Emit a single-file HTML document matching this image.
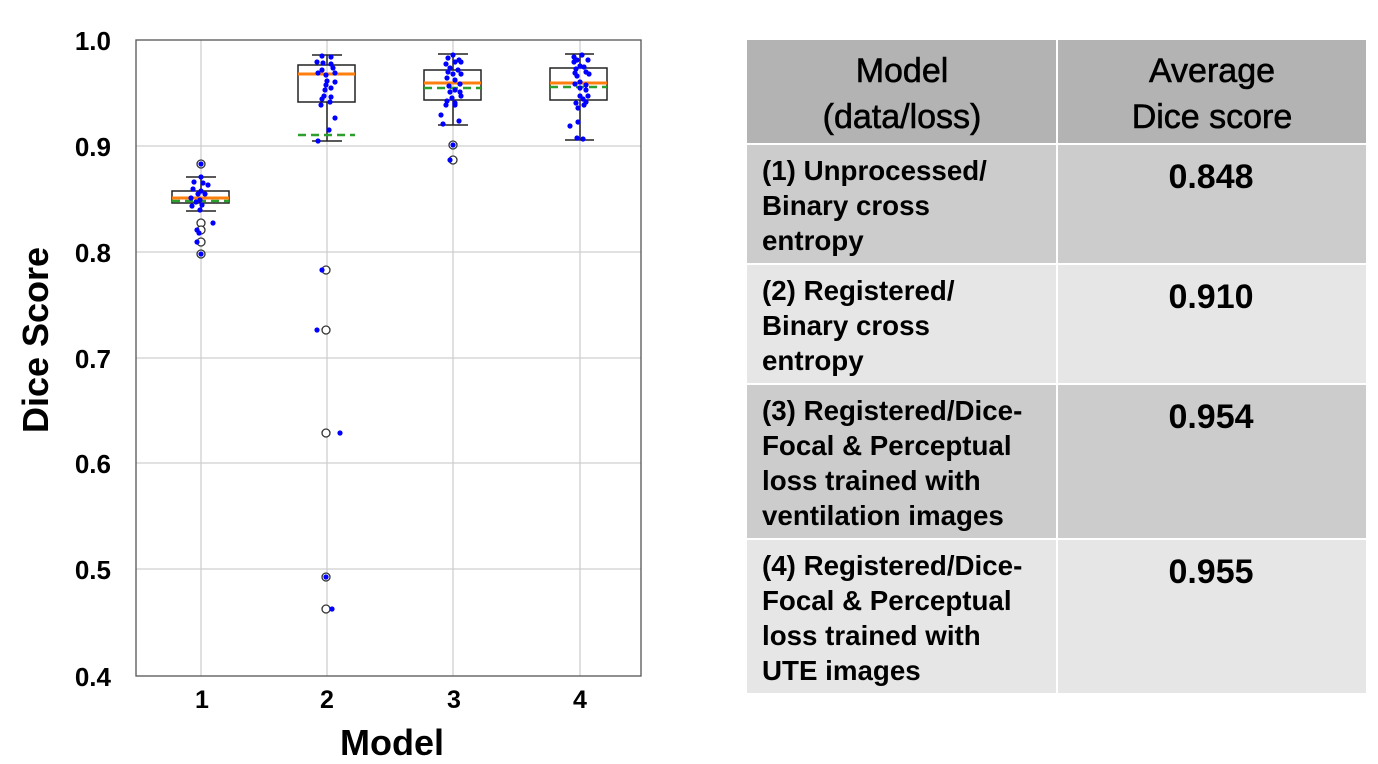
<!DOCTYPE html>
<html><head><meta charset="utf-8"><style>
body{margin:0;background:#fff;}
svg{display:block;font-family:"Liberation Sans",Arial,sans-serif;}
</style></head><body>
<svg width="1378" height="764" viewBox="0 0 1378 764" xmlns="http://www.w3.org/2000/svg">
<rect width="1378" height="764" fill="#fff"/>
<g stroke="#cfcfcf" stroke-width="1.3">
<line x1="136" y1="146" x2="641" y2="146"/><line x1="136" y1="252" x2="641" y2="252"/>
<line x1="136" y1="358" x2="641" y2="358"/><line x1="136" y1="463" x2="641" y2="463"/>
<line x1="136" y1="569" x2="641" y2="569"/>
<line x1="201" y1="40" x2="201" y2="676"/><line x1="327" y1="40" x2="327" y2="676"/>
<line x1="453" y1="40" x2="453" y2="676"/><line x1="580" y1="40" x2="580" y2="676"/>
</g>
<rect x="136" y="40" width="505" height="636" fill="none" stroke="#555" stroke-width="1.3"/>
<g font-size="26" font-weight="bold" text-anchor="end" fill="#000">
<text x="111" y="50">1.0</text><text x="111" y="156">0.9</text><text x="111" y="262">0.8</text>
<text x="111" y="368">0.7</text><text x="111" y="473">0.6</text><text x="111" y="579">0.5</text>
<text x="111" y="686">0.4</text>
</g>
<g font-size="25" font-weight="bold" text-anchor="middle">
<text x="202" y="708">1</text><text x="327" y="708">2</text><text x="454" y="708">3</text><text x="580" y="708">4</text>
</g>
<text x="392" y="755" font-size="36" font-weight="bold" text-anchor="middle">Model</text>
<text transform="translate(48,340) rotate(-90)" font-size="36" font-weight="bold" text-anchor="middle">Dice Score</text>
<g stroke="#222" stroke-width="1.5" fill="none">
<rect x="172" y="191" width="57" height="12"/><line x1="201" y1="177" x2="201" y2="191"/><line x1="201" y1="203" x2="201" y2="211"/>
<line x1="186" y1="177" x2="216" y2="177"/><line x1="186" y1="211" x2="216" y2="211"/>
<rect x="298" y="65" width="57" height="37"/><line x1="327" y1="55" x2="327" y2="65"/><line x1="327" y1="102" x2="327" y2="141"/>
<line x1="312" y1="55" x2="342" y2="55"/><line x1="312" y1="141" x2="342" y2="141"/>
<rect x="424" y="70" width="57" height="30"/><line x1="453" y1="54" x2="453" y2="70"/><line x1="453" y1="100" x2="453" y2="125"/>
<line x1="438" y1="54" x2="468" y2="54"/><line x1="438" y1="125" x2="468" y2="125"/>
<rect x="550" y="68" width="57" height="32"/><line x1="580" y1="54" x2="580" y2="68"/><line x1="580" y1="100" x2="580" y2="140"/>
<line x1="565" y1="54" x2="594" y2="54"/><line x1="565" y1="140" x2="594" y2="140"/>
</g>
<g stroke="#2ca02c" stroke-width="2.5" stroke-dasharray="8,5">
<line x1="172" y1="201" x2="229" y2="201"/><line x1="298" y1="135" x2="355" y2="135"/>
<line x1="424" y1="88" x2="481" y2="88"/><line x1="550" y1="87" x2="607" y2="87"/>
</g>
<g stroke="#ff7f0e" stroke-width="3">
<line x1="172" y1="198" x2="229" y2="198"/><line x1="298" y1="74" x2="355" y2="74"/>
<line x1="424" y1="83" x2="481" y2="83"/><line x1="550" y1="83" x2="607" y2="83"/>
</g>
<g fill="#fff" stroke="#333" stroke-width="1.3">
<circle cx="201" cy="164" r="4"/><circle cx="201" cy="223" r="4"/><circle cx="201" cy="230" r="4"/><circle cx="201" cy="242" r="4"/><circle cx="201" cy="254" r="4"/>
<circle cx="326" cy="270" r="4"/><circle cx="326" cy="330" r="4"/><circle cx="326" cy="433" r="4"/><circle cx="326" cy="577" r="4"/><circle cx="326" cy="609" r="4"/>
<circle cx="453" cy="145" r="4"/><circle cx="453" cy="160" r="4"/>
</g>
<g fill="#0000ff">
<circle cx="201" cy="164" r="2.6"/><circle cx="201" cy="177" r="2.6"/><circle cx="194" cy="182" r="2.6"/><circle cx="203" cy="183" r="2.6"/><circle cx="208" cy="185" r="2.6"/><circle cx="193" cy="189" r="2.6"/><circle cx="201" cy="191" r="2.6"/><circle cx="198" cy="194" r="2.6"/><circle cx="205" cy="194" r="2.6"/><circle cx="191" cy="198" r="2.6"/><circle cx="200" cy="200" r="2.6"/><circle cx="196" cy="202" r="2.6"/><circle cx="202" cy="205" r="2.6"/><circle cx="192" cy="206" r="2.6"/><circle cx="200" cy="210" r="2.6"/><circle cx="213" cy="223" r="2.6"/><circle cx="197" cy="230" r="2.6"/><circle cx="199" cy="233" r="2.6"/><circle cx="197" cy="242" r="2.6"/><circle cx="201" cy="254" r="2.6"/>
<circle cx="322" cy="56" r="2.6"/><circle cx="331" cy="57" r="2.6"/><circle cx="317" cy="62" r="2.6"/><circle cx="323" cy="63" r="2.6"/><circle cx="331" cy="64" r="2.6"/><circle cx="322" cy="70" r="2.6"/><circle cx="333" cy="68" r="2.6"/><circle cx="318" cy="73" r="2.6"/><circle cx="326" cy="75" r="2.6"/><circle cx="335" cy="73" r="2.6"/><circle cx="327" cy="81" r="2.6"/><circle cx="335" cy="82" r="2.6"/><circle cx="326" cy="85" r="2.6"/><circle cx="331" cy="88" r="2.6"/><circle cx="325" cy="90" r="2.6"/><circle cx="324" cy="96" r="2.6"/><circle cx="331" cy="97" r="2.6"/><circle cx="322" cy="99" r="2.6"/><circle cx="321" cy="105" r="2.6"/><circle cx="330" cy="102" r="2.6"/><circle cx="335" cy="118" r="2.6"/><circle cx="329" cy="130" r="2.6"/><circle cx="318" cy="141" r="2.6"/><circle cx="322" cy="270" r="2.6"/><circle cx="317" cy="330" r="2.6"/><circle cx="340" cy="433" r="2.6"/><circle cx="326" cy="577" r="2.6"/><circle cx="332" cy="609" r="2.6"/>
<circle cx="453" cy="55" r="2.6"/><circle cx="448" cy="58" r="2.6"/><circle cx="459" cy="60" r="2.6"/><circle cx="446" cy="64" r="2.6"/><circle cx="455" cy="62" r="2.6"/><circle cx="461" cy="62" r="2.6"/><circle cx="450" cy="68" r="2.6"/><circle cx="448" cy="72" r="2.6"/><circle cx="458" cy="70" r="2.6"/><circle cx="461" cy="74" r="2.6"/><circle cx="453" cy="74" r="2.6"/><circle cx="447" cy="78" r="2.6"/><circle cx="455" cy="80" r="2.6"/><circle cx="460" cy="84" r="2.6"/><circle cx="449" cy="86" r="2.6"/><circle cx="455" cy="90" r="2.6"/><circle cx="450" cy="92" r="2.6"/><circle cx="460" cy="92" r="2.6"/><circle cx="452" cy="98" r="2.6"/><circle cx="461" cy="96" r="2.6"/><circle cx="447" cy="101" r="2.6"/><circle cx="455" cy="103" r="2.6"/><circle cx="446" cy="105" r="2.6"/><circle cx="455" cy="105" r="2.6"/><circle cx="441" cy="115" r="2.6"/><circle cx="459" cy="121" r="2.6"/><circle cx="443" cy="124" r="2.6"/><circle cx="453" cy="145" r="2.6"/><circle cx="450" cy="160" r="2.6"/>
<circle cx="582" cy="55" r="2.6"/><circle cx="574" cy="57" r="2.6"/><circle cx="577" cy="60" r="2.6"/><circle cx="588" cy="60" r="2.6"/><circle cx="574" cy="62" r="2.6"/><circle cx="580" cy="66" r="2.6"/><circle cx="576" cy="69" r="2.6"/><circle cx="584" cy="67" r="2.6"/><circle cx="586" cy="72" r="2.6"/><circle cx="575" cy="73" r="2.6"/><circle cx="589" cy="74" r="2.6"/><circle cx="577" cy="76" r="2.6"/><circle cx="580" cy="82" r="2.6"/><circle cx="575" cy="84" r="2.6"/><circle cx="586" cy="85" r="2.6"/><circle cx="580" cy="88" r="2.6"/><circle cx="586" cy="90" r="2.6"/><circle cx="580" cy="96" r="2.6"/><circle cx="588" cy="96" r="2.6"/><circle cx="583" cy="99" r="2.6"/><circle cx="586" cy="102" r="2.6"/><circle cx="576" cy="103" r="2.6"/><circle cx="584" cy="105" r="2.6"/><circle cx="578" cy="108" r="2.6"/><circle cx="578" cy="122" r="2.6"/><circle cx="570" cy="126" r="2.6"/><circle cx="577" cy="138" r="2.6"/><circle cx="583" cy="139" r="2.6"/>
</g>
<rect x="747" y="40" width="309" height="103" fill="#b3b3b3"/><rect x="1058" y="40" width="308" height="103" fill="#b3b3b3"/>
<rect x="747" y="145" width="309" height="118" fill="#cccccc"/><rect x="1058" y="145" width="308" height="118" fill="#cccccc"/>
<rect x="747" y="265" width="309" height="118" fill="#e6e6e6"/><rect x="1058" y="265" width="308" height="118" fill="#e6e6e6"/>
<rect x="747" y="385" width="309" height="153" fill="#cccccc"/><rect x="1058" y="385" width="308" height="153" fill="#cccccc"/>
<rect x="747" y="540" width="309" height="153" fill="#e6e6e6"/><rect x="1058" y="540" width="308" height="153" fill="#e6e6e6"/>
<g font-size="34" text-anchor="middle" fill="#000" stroke="#000" stroke-width="0.6">
<text x="902" y="82">Model</text><text x="902" y="128">(data/loss)</text>
<text x="1212" y="82">Average</text><text x="1212" y="128">Dice score</text>
</g>
<g font-size="34" font-weight="bold" text-anchor="middle">
<text x="1211" y="188">0.848</text><text x="1211" y="308">0.910</text>
<text x="1211" y="428">0.954</text><text x="1211" y="583">0.955</text>
</g>
<g font-size="28" font-weight="bold" transform="translate(762,0) scale(0.99,1) translate(-762,0)">
<text x="762" y="180">(1) Unprocessed/</text><text x="762" y="215">Binary cross</text><text x="762" y="250">entropy</text>
<text x="762" y="300">(2) Registered/</text><text x="762" y="335">Binary cross</text><text x="762" y="370">entropy</text>
<text x="762" y="420">(3) Registered/Dice-</text><text x="762" y="455">Focal &amp; Perceptual</text><text x="762" y="490">loss trained with</text><text x="762" y="525">ventilation images</text>
<text x="762" y="575">(4) Registered/Dice-</text><text x="762" y="610">Focal &amp; Perceptual</text><text x="762" y="645">loss trained with</text><text x="762" y="680">UTE images</text>
</g>
</svg>
</body></html>
